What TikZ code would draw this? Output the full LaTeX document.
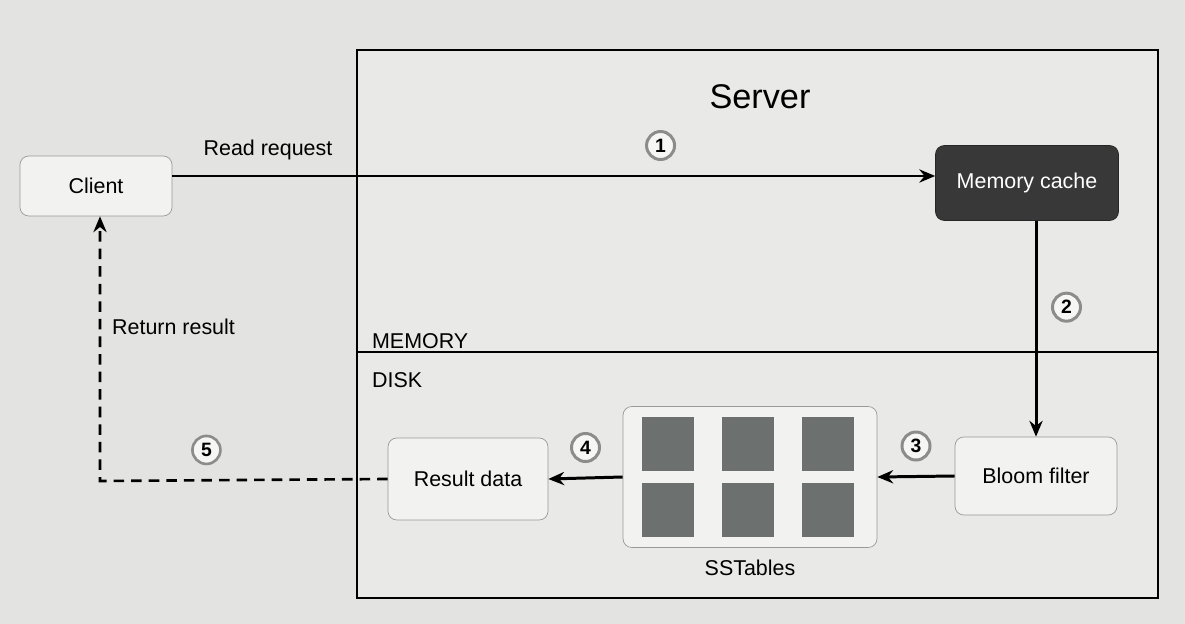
\documentclass[tikz,border=0pt]{standalone}
\usepackage{fontspec}
\setmainfont{Liberation Sans}
\usetikzlibrary{arrows.meta, positioning, calc}
\definecolor{paper}{HTML}{E3E3E1}
\definecolor{panel}{HTML}{E9E9E7}
\definecolor{tile}{HTML}{6C7170}

\begin{document}
\begin{tikzpicture}[
  x=0.02cm, y=-0.02cm,
  font=\fontsize{12.2}{14}\selectfont,
  box/.style={
    rounded corners=5pt, draw=black!40, fill=panel!60!white,
    minimum width=#1, minimum height=1.56cm, align=center
  },
  num/.style={circle, draw=black!45, fill=panel!40!white, inner sep=0pt,
    minimum size=0.56cm, font=\bfseries\fontsize{11}{12}\selectfont},
  flow/.style={line width=1.7pt, -{Stealth[length=9pt, width=7.5pt]}},
  tag/.style={inner sep=1pt}
]
  \fill[paper] (0,0) rectangle (1185,624);
  \useasboundingbox (0,0) rectangle (1185,624);

  % server panel
  \draw[fill=panel, line width=0.9pt] (357,50) rectangle (1158,598);
  \draw[line width=0.9pt] (357,352) -- (1158,352);
  \node[font=\fontsize{19.5}{22}\selectfont] (srv) at (760,97) {Server};
  \node[tag, anchor=west] (mem) at (370,341) {MEMORY};
  \node[tag, anchor=west] (dsk) at (370,380) {DISK};

  % nodes
  \node[box=3.04cm, minimum height=1.2cm] (client) at (96,186) {Client};
  \node[box=3.66cm, minimum height=1.5cm, fill=black!78, draw=black!85,
    text=white] (cache) at (1027,183) {Memory cache};
  \node[box=3.24cm] (bloom) at (1036,476) {Bloom filter};
  \node[box=3.2cm, minimum height=1.64cm] (res) at (468,479) {Result data};

  % sstables
  \node[box=5.08cm, minimum height=2.82cm] (sst) at (750,477) {};
  \foreach \cx in {668,748,828}
    \foreach \cy in {444,510}
      \fill[tile] (\cx-26,\cy-27) rectangle (\cx+26,\cy+27);
  \node[below=0.12cm of sst] (sstl) {SSTables};

  % connectors
  \draw[flow] (client.east |- 0,176) -- node[num, pos=0.64, above=0.3cm] (n1) {1} (cache.west |- 0,176);
  \node[anchor=south] (rr) at (268,166) {Read request};
  \coordinate (c2) at (1036,0);
  \draw[flow] (cache.south -| c2) -- node[num, pos=0.4, right=0.3cm] (n2) {2} (bloom.north -| c2);
  \draw[flow] (bloom.west) -- node[num, above=0.3cm] (n3) {3} (sst.east);
  \draw[flow] (sst.west) -- node[num, above=0.3cm] (n4) {4} (res.east);
  \coordinate (corner) at (100,481);
  \draw[line width=1.5pt, dash pattern=on 6pt off 4pt, -{Stealth[length=9pt, width=7.5pt]}]
    (res.west) -- node[num, pos=0.63, above=0.3cm, solid] (n5) {5} (corner) -- (client.south -| corner);
  \node[anchor=west] (ret) at (106,327) {Return result};
\end{tikzpicture}
\end{document}
